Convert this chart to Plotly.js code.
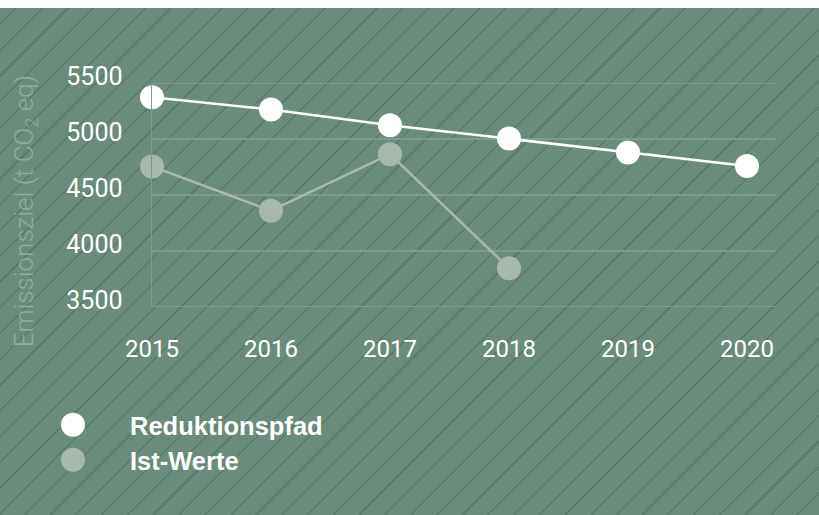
<!DOCTYPE html>
<html>
<head>
<meta charset="utf-8">
<script src="https://cdn.plot.ly/plotly-3.0.1.min.js"></script>
<style>
  html, body { margin: 0; padding: 0; background: #ffffff; }
  #chart {
    width: 819px; height: 515px;
    background:
      linear-gradient(#ffffff, #ffffff) 0 0 / 100% 8px no-repeat,
      repeating-linear-gradient(135deg, #6b8b7c 0px, #6b8b7c 16.6px, #5a7a6a 16.6px, #5a7a6a 18.2px);
  }
</style>
</head>
<body>
<div id="chart"></div>
<script>
// ---- data ----
const years = [2015, 2016, 2017, 2018, 2019, 2020];
const reduktionspfad = [5375, 5265, 5125, 5005, 4880, 4760];
const istYears = [2015, 2016, 2017, 2018];
const istWerte = [4755, 4360, 4865, 3845];
const seriesNames = ["Reduktionspfad", "Ist-Werte"];
const yTicks = [3500, 4000, 4500, 5000, 5500];
const yTitle = "Emissionsziel (t CO<sub>2</sub> eq)";

const white = "#ffffff";
const grey = "#a9b8ae";
const gridC = "#7e9b8d";

const traces = [
  {
    x: istYears, y: istWerte, name: seriesNames[1], type: "scatter", mode: "lines+markers",
    line: { color: grey, width: 2.5 }, marker: { color: grey, size: 24 },
    cliponaxis: false, showlegend: false, hoverinfo: "skip"
  },
  {
    x: years, y: reduktionspfad, name: seriesNames[0], type: "scatter", mode: "lines+markers",
    line: { color: white, width: 2.5 }, marker: { color: white, size: 24 },
    cliponaxis: false, showlegend: false, hoverinfo: "skip"
  }
];

const W = 624, H = 224.1;
const px = v => (v - 152) / W;
const py = v => (307.2 - v) / H;

const edgeGrid = [yTicks[0], yTicks[yTicks.length - 1]].map(v => ({
  type: "line", xref: "paper", yref: "y", x0: 0, x1: 1, y0: v, y1: v,
  line: { color: gridC, width: 1.5 }, layer: "below"
}));

const layout = {
  width: 819, height: 515,
  margin: { l: 152, r: 43, t: 83.1, b: 207.8 },
  paper_bgcolor: "rgba(0,0,0,0)",
  plot_bgcolor: "rgba(0,0,0,0)",
  showlegend: false,
  font: { family: "Roboto, 'Liberation Sans', sans-serif", color: "#ffffff", size: 24 },
  xaxis: {
    range: [2015, 2020.244], tickvals: years, ticktext: years.map(String),
    showgrid: false, zeroline: false, showline: false, ticks: "",
    ticklabelstandoff: 25,
    tickfont: { size: 24, color: "#ffffff" }
  },
  yaxis: {
    range: [3498, 5502], tickvals: yTicks, ticktext: yTicks.map(String),
    showgrid: true, gridcolor: gridC, gridwidth: 1.5,
    zeroline: false, showline: true, linecolor: gridC, linewidth: 1.5,
    ticks: "", ticklabelstandoff: 23, ticklabelshift: -7,
    tickfont: { size: 25, color: "#ffffff" }
  },
  shapes: edgeGrid.concat([
    { type: "circle", xref: "paper", yref: "paper", xsizemode: "pixel", ysizemode: "pixel",
      xanchor: px(73), yanchor: py(425), x0: -12, x1: 12, y0: -12, y1: 12,
      fillcolor: white, line: { width: 0 } },
    { type: "circle", xref: "paper", yref: "paper", xsizemode: "pixel", ysizemode: "pixel",
      xanchor: px(73), yanchor: py(460), x0: -12, x1: 12, y0: -12, y1: 12,
      fillcolor: grey, line: { width: 0 } }
  ]),
  annotations: [
    { text: yTitle, xref: "paper", yref: "paper", x: px(25), y: py(211.5),
      xanchor: "center", yanchor: "middle", textangle: -90, showarrow: false,
      font: { family: "Roboto, 'Liberation Sans', sans-serif", size: 26, weight: 300, color: "#93aa9e" } },
    { text: seriesNames[0], xref: "paper", yref: "paper", x: px(128), y: py(426),
      xanchor: "left", yanchor: "middle", showarrow: false,
      font: { family: "'Liberation Sans', Arial, sans-serif", size: 25.5, weight: 700, color: "#ffffff" } },
    { text: seriesNames[1], xref: "paper", yref: "paper", x: px(128), y: py(461),
      xanchor: "left", yanchor: "middle", showarrow: false,
      font: { family: "'Liberation Sans', Arial, sans-serif", size: 25.5, weight: 700, color: "#ffffff" } }
  ]
};

Plotly.newPlot("chart", traces, layout, { staticPlot: true, displayModeBar: false });
</script>
</body>
</html>
